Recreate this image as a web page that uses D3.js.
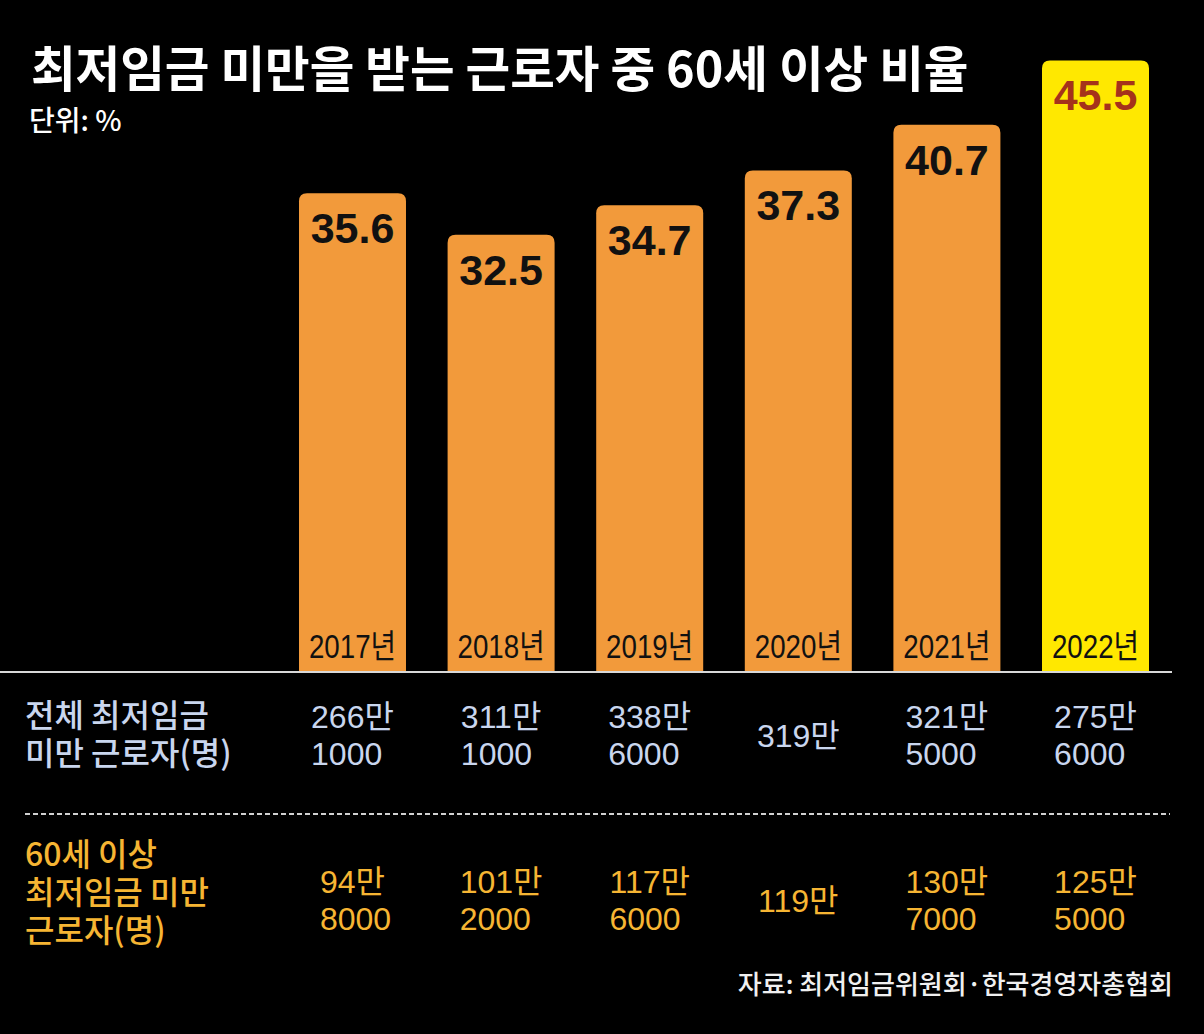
<!DOCTYPE html>
<html>
<head>
<meta charset="utf-8">
<script src="https://cdn.jsdelivr.net/npm/d3@7"></script>
<style>
  html, body { margin: 0; padding: 0; background: #000; }
  svg { display: block; }
</style>
</head>
<body>
<div id="chart"></div>
<script>
// ---------------------------------------------------
// DATA
// ---------------------------------------------------
const years = ["2017", "2018", "2019", "2020", "2021", "2022"];
const seniorShare = [35.6, 32.5, 34.7, 37.3, 40.7, 45.5];          // % of sub-minimum-wage workers aged 60+
const totalWorkers = [2661000, 3111000, 3386000, 3190000, 3215000, 2756000];
const seniorWorkers = [948000, 1012000, 1176000, 1190000, 1307000, 1255000];
const yDomain = [0, 50];

const width = 1204;
const height = 1034;

const svg = d3.select("#chart")
  .append("svg")
  .attr("width", width)
  .attr("height", height);

svg.append("rect")
  .attr("width", width)
  .attr("height", height)
  .attr("fill", "#000");

const cjk = "'Noto Sans CJK KR', 'Noto Sans', sans-serif";
const latin = "'Liberation Sans', Arial, 'Noto Sans CJK KR', sans-serif";

// ---------------------------------------------------
// SCALES
// ---------------------------------------------------
const x = d3.scaleBand()
  .domain(years)
  .range([299, 1149])
  .paddingInner(0.28)
  .paddingOuter(0);

const y = d3.scaleLinear()
  .domain(yDomain)
  .range([671, 0]);

const rows = years.map((yr, i) => ({
  year: yr,
  share: seniorShare[i],
  total: totalWorkers[i],
  senior: seniorWorkers[i],
  last: i === years.length - 1
}));

// ---------------------------------------------------
// TITLE
// ---------------------------------------------------
svg.append("text")
  .attr("x", 31)
  .attr("y", 87)
  .attr("fill", "#fff")
  .style("font-family", cjk)
  .style("font-weight", 700)
  .style("font-size", "48.5px")
  .text("최저임금 미만을 받는 근로자 중 60세 이상 비율");

svg.append("text")
  .attr("x", 29)
  .attr("y", 131)
  .attr("fill", "#fff")
  .style("font-family", cjk)
  .style("font-weight", 500)
  .style("font-size", "28px")
  .text("단위: %");

// ---------------------------------------------------
// BARS (rounded top corners only)
// ---------------------------------------------------
const r = 8;
const barPath = d => {
  const x0 = x(d.year), x1 = x0 + x.bandwidth();
  const top = y(d.share), base = y(0);
  return `M${x0},${base} V${top + r} Q${x0},${top} ${x0 + r},${top} H${x1 - r} Q${x1},${top} ${x1},${top + r} V${base} Z`;
};

svg.selectAll(".bar")
  .data(rows)
  .join("path")
  .attr("class", "bar")
  .attr("d", barPath)
  .attr("fill", d => d.last ? "#ffe800" : "#f29a3b");

// value labels
svg.selectAll(".val")
  .data(rows)
  .join("text")
  .attr("class", "val")
  .attr("x", d => x(d.year) + x.bandwidth() / 2)
  .attr("y", d => y(d.share) + 50)
  .attr("text-anchor", "middle")
  .attr("fill", d => d.last ? "#a5321b" : "#111")
  .style("font-family", latin)
  .style("font-weight", 700)
  .style("font-size", "43px")
  .text(d => d.share.toFixed(1));

// year labels inside bars (condensed look)
svg.selectAll(".yr")
  .data(rows)
  .join("text")
  .attr("class", "yr")
  .attr("transform", d => `translate(${x(d.year) + x.bandwidth() / 2},658) scale(0.84,1)`)
  .attr("text-anchor", "middle")
  .attr("fill", "#111")
  .style("font-family", latin)
  .style("font-size", "33px")
  .text(d => d.year + "년");

// baseline
svg.append("line")
  .attr("x1", 0)
  .attr("x2", 1172)
  .attr("y1", y(0) + 1)
  .attr("y2", y(0) + 1)
  .attr("stroke", "#d8d8d8")
  .attr("stroke-width", 2);

// ---------------------------------------------------
// TABLE BELOW
// multi-line cells are one <text> with stacked tspans
// ---------------------------------------------------
const fmtMan = v => {
  const man = Math.floor(v / 10000);
  const rest = v % 10000;
  return rest ? [man + "만", String(rest)] : [man + "만"];
};

const drawRow = (key, color, labels, labelY, valueY) => {
  const label = svg.append("text")
    .attr("y", labelY)
    .attr("fill", color)
    .style("font-family", cjk)
    .style("font-weight", 500)
    .style("font-size", "32px");
  labels.forEach((t, i) => {
    label.append("tspan")
      .attr("x", 25)
      .attr("dy", i === 0 ? 0 : 38)
      .text(t);
  });

  rows.forEach(d => {
    const lines = fmtMan(d[key]);
    const cx = x(d.year) + x.bandwidth() / 2;
    const cell = svg.append("text")
      .attr("y", lines.length === 1 ? valueY + 19 : valueY)
      .attr("fill", color)
      .style("font-family", latin)
      .style("font-size", "32px");
    const spans = lines.map((t, j) => cell.append("tspan")
      .attr("dy", j === 0 ? 0 : 37)
      .text(t));
    // center the first line on the bar, keep lines left-aligned
    const w = spans[0].node().getComputedTextLength();
    spans.forEach(s => s.attr("x", cx - w / 2));
  });
};

drawRow("total", "#c9d6ee", ["전체 최저임금", "미만 근로자(명)"], 727, 728);

svg.append("line")
  .attr("x1", 25)
  .attr("x2", 1170)
  .attr("y1", 814)
  .attr("y2", 814)
  .attr("stroke", "#d0d0d0")
  .attr("stroke-width", 2)
  .attr("stroke-dasharray", "5,3");

drawRow("senior", "#f6b533", ["60세 이상", "최저임금 미만", "근로자(명)"], 866, 893);

// source
svg.append("text")
  .attr("x", 1173)
  .attr("y", 994)
  .attr("text-anchor", "end")
  .attr("fill", "#f0f0f0")
  .style("font-family", cjk)
  .style("font-weight", 500)
  .style("font-size", "26px")
  .text("자료: 최저임금위원회·한국경영자총협회");
</script>
</body>
</html>
